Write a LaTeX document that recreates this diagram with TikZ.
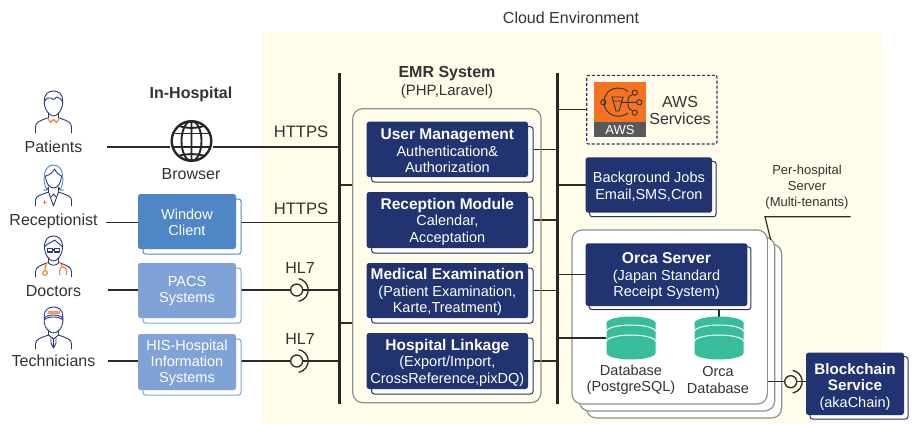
\documentclass[tikz,border=0pt]{standalone}
\usepackage{fontspec}
\setmainfont{Liberation Sans}
\usetikzlibrary{calc}
\definecolor{cloudbg}{HTML}{FFFCE9}
\definecolor{navy}{HTML}{213370}
\definecolor{winblue}{HTML}{4F86C6}
\definecolor{sysblue}{HTML}{7FA3D7}
\definecolor{teal}{HTML}{38BD9C}
\definecolor{ink}{HTML}{333333}
\definecolor{graybd}{HTML}{8B9096}
\definecolor{orng}{HTML}{F0812F}
\definecolor{iconblue}{HTML}{2A3A80}
\definecolor{awsor}{HTML}{F47322}
\definecolor{awsgr}{HTML}{58595B}
\pgfdeclarelayer{cloud}
\pgfdeclarelayer{stack}
\pgfdeclarelayer{conn}
\pgfsetlayers{cloud,stack,conn,main}
\tikzset{
  txt/.style={text=ink,inner sep=0pt,align=center,font=\fontsize{14.5}{16.3}\selectfont},
  big/.style={txt,font=\fontsize{16}{17}\selectfont},
  lead/.style={txt,font=\bfseries\fontsize{16}{17}\selectfont},
  small/.style={txt,font=\fontsize{13}{16}\selectfont},
  inbox/.style={text=white,inner sep=0pt,align=center,font=\fontsize{14.5}{16.3}\selectfont},
  conn/.style={draw=ink!85!black,line width=1.2pt},
  bar/.style={fill=black!85,inner sep=0pt,minimum width=3pt},
  pane/.style={draw=graybd,line width=1.2pt,rounded corners=10pt,inner sep=0pt},
  navyf/.style={fill=navy,rounded corners=2.5pt,inner sep=0pt},
  navyb/.style={fill=white,draw=navy,line width=1pt,rounded corners=2.5pt,inner sep=0pt},
  winf/.style={fill=winblue,rounded corners=2.5pt,inner sep=0pt},
  winb/.style={fill=white,draw=winblue,line width=1pt,rounded corners=2.5pt,inner sep=0pt},
  sysf/.style={fill=sysblue,rounded corners=2.5pt,inner sep=0pt},
  sysb/.style={fill=white,draw=sysblue,line width=1pt,rounded corners=2.5pt,inner sep=0pt},
  socket/.style={circle,draw=ink!85!black,line width=1.3pt,fill=cloudbg,minimum size=12pt,inner sep=0pt},
  person/.style={draw=iconblue,line width=.9pt,line cap=round,line join=round},
  accent/.style={draw=orng,line width=1.1pt,line cap=round,line join=round},
  globeline/.style={draw=black!85,line width=1.9pt},
  awsline/.style={draw=black!80,line width=.9pt},
  dbline/.style={draw=white,line width=1pt}
}
\def\textdrop{1.6}
% name, x1,y1,x2,y2, offset, style prefix, text
\newcommand\stackbox[8]{%
  \pgfmathsetmacro\bw{#4-#2}\pgfmathsetmacro\bh{#5-#3}%
  \pgfmathsetmacro\bx{(#2+#4)/2}\pgfmathsetmacro\by{(#3+#5)/2}%
  \pgfmathsetmacro\ox{\bx+#6}\pgfmathsetmacro\oy{\by+#6}\pgfmathsetmacro\ty{\by+\textdrop}%
  \node[#7b,minimum width=\bw pt,minimum height=\bh pt] (#1b) at (\ox,\oy) {};
  \node[#7f,minimum width=\bw pt,minimum height=\bh pt] (#1) at (\bx,\by) {};
  \node[inbox] (#1t) at (\bx,\ty) {#8};
}
% name, cx, cy
\newcommand\database[3]{%
  \begin{scope}[shift={(#2,#3)}]
    \fill[teal] (-24.5,-15) -- (24.5,-15) -- (24.5,15) arc (0:180:24.5 and 6.5) -- cycle;
    \fill[teal] (0,-15) ellipse (24.5 and 6.5);
    \draw[dbline] (-24.5,-6.5) arc (180:360:24.5 and 6.5);
    \draw[dbline] (-24.5,3.5) arc (180:360:24.5 and 6.5);
  \end{scope}
  \node[inner sep=0pt,minimum width=49pt,minimum height=42pt] (#1) at (#2,#3) {};
}
\newcommand\lolly[1]{\draw[draw=ink!85!black,line width=1.3pt] ($(#1.center)+(80:11.5)$) arc (80:-80:11.5);}
\begin{document}
\begin{tikzpicture}[x=1pt,y=-1pt]
\useasboundingbox (0,0) rectangle (915,423);
\begin{pgfonlayer}{cloud}
  \fill[white] (0,0) rectangle (915,423);
  \fill[cloudbg,rounded corners=3pt] (262,32) rectangle (882,423);
\end{pgfonlayer}

\node[big] (cloudlabel) at (571,18) {Cloud Environment};
\node[lead] (inhosp) at (191,94) {In-Hospital};
\node[lead] (emrlabel) at (447,73.5) {EMR System};
\node[txt,font=\fontsize{15}{16}\selectfont] (emrsub) at (447,92) {(PHP,Laravel)};

% bars
\node[bar,minimum height=331pt] (bar1) at (339.5,238) {};
\node[bar,minimum height=331pt] (bar2) at (557.5,238) {};

% actors
\node[big] (patients) at (53.5,146.5) {Patients};
\node[big] (recept) at (53.5,221) {Receptionist};
\node[big] (doctors) at (53.5,291) {Doctors};
\node[big] (techs) at (53.5,361) {Technicians};
\coordinate (paend) at (107,147);
\coordinate (reend) at (106,222.7);
\coordinate (doend) at (108,290);
\coordinate (teend) at (108,361);

% icons
\begin{scope}[shift={(53.5,91)}]
  \draw[person] (-9.3,10) .. controls (-9.3,3) and (-5,0) .. (0,0) .. controls (5,0) and (9.3,3) .. (9.3,10) .. controls (9.3,19) and (4,25) .. (0,25) .. controls (-4,25) and (-9.3,19) .. (-9.3,10);
  \draw[person] (-9.3,11) .. controls (-7,7) and (-5,6) .. (-3,7) .. controls (-1,9) and (1,9) .. (3,6) .. controls (5,6) and (8,8) .. (9.3,11);
  \draw[person] (-5,22) -- (-5,27) (5,22) -- (5,27);
  \draw[person] (-18,42) -- (-18,36) .. controls (-18,31) and (-14,30) .. (-6,27);
  \draw[person] (18,42) -- (18,36) .. controls (18,31) and (14,30) .. (6,27);
  \draw[accent] (-6,27) -- (-3,31.5) -- (0,28.5) -- (3,31.5) -- (6,27);
\end{scope}
\begin{scope}[shift={(53.5,165)}]
  \draw[draw=winblue,line width=.9pt] (-7,24) .. controls (-11,18) and (-11,0) .. (0,0) .. controls (11,0) and (11,18) .. (7,24);
  \draw[person] (-8,11) .. controls (-4,10) and (-1,8) .. (1,4) .. controls (3,8) and (6,10) .. (8,11) .. controls (8,18) and (4,23) .. (0,23) .. controls (-4,23) and (-8,18) .. (-8,11);
  \draw[person] (-10,25) .. controls (-8,26) and (-6,25) .. (-5,22) -- (-5,27);
  \draw[person] (10,25) .. controls (8,26) and (6,25) .. (5,22) -- (5,27);
  \draw[person] (-18,41) -- (-18,35) .. controls (-18,31) and (-13,30) .. (-5,27) -- (0,41) -- (5,27) .. controls (13,30) and (18,31) .. (18,35) -- (18,41);
  \draw[person] (-2.5,32) -- (0,29) -- (2.5,32);
  \draw[orng,line width=1.3pt] (-8.8,35.2) -- (-8.8,39.4) (-11,37.3) -- (-6.6,37.3);
\end{scope}
\begin{scope}[shift={(53.5,236)}]
  \draw[person] (-9,11) .. controls (-9,3) and (-5,0) .. (0,0) .. controls (5,0) and (9,3) .. (9,11) .. controls (9,19) and (4,25) .. (0,25) .. controls (-4,25) and (-9,19) .. (-9,11);
  \draw[person] (-9,11) .. controls (-6,7) and (-2,7) .. (1,4) .. controls (4,7) and (7,8) .. (9,11);
  \draw[person,line width=1.1pt] (-6,12.5) rectangle (-1,16) (1,12.5) rectangle (6,16) (-1,14) -- (1,14);
  \draw[person] (-5,22) -- (-5,27) (5,22) -- (5,27);
  \draw[person] (-18,41) -- (-18,36) .. controls (-18,31) and (-14,30) .. (-7,27);
  \draw[person] (18,41) -- (18,36) .. controls (18,31) and (14,30) .. (7,27);
  \draw[person] (-5,27) .. controls (-2,30) and (2,30) .. (5,27);
  \draw[accent] (-6,26) .. controls (-8,29) and (-9,31) .. (-8.5,34.5);
  \draw[accent] (-8.5,37) circle (2.3);
  \draw[accent] (6,26) .. controls (8,29) and (9,30) .. (9.5,31);
  \draw[accent] (6.5,39) .. controls (5,34) and (7,31) .. (9.5,31) .. controls (12,31) and (14,34) .. (12.5,39);
\end{scope}
\begin{scope}[shift={(53.5,307)}]
  \draw[person] (-9.3,9) .. controls (-9.3,3) and (-5,0) .. (0,0) .. controls (5,0) and (9.3,3) .. (9.3,9) -- (9.3,15) .. controls (9,21) and (4,26) .. (0,26) .. controls (-4,26) and (-9,21) .. (-9.3,15) -- cycle;
  \draw[person] (-9.3,13) .. controls (-6,9) and (6,9) .. (9.3,13) (-9.3,11) .. controls (-6,7) and (6,7) .. (9.3,11);
  \fill[orng!80] (-6,3.5) rectangle (6,6.5);
  \draw[person] (-5,23) -- (-5,28) (5,23) -- (5,28);
  \draw[person] (-18,42) -- (-18,37) .. controls (-18,32) and (-13,31) .. (-5,28) -- (0,32) -- (5,28) .. controls (13,31) and (18,32) .. (18,37) -- (18,42);
  \draw[person] (-2.5,31) -- (-2.5,36) -- (0,41) -- (2.5,36) -- (2.5,31) (0,32) -- (0,41);
\end{scope}

% browser
\node[circle,inner sep=0pt,minimum size=42pt] (browser) at (191.5,141) {};
\begin{scope}[shift={(191.5,141)}]
  \draw[globeline,line width=2.4pt] (0,0) circle (19.8);
  \draw[globeline] (0,-20) -- (0,20) (0,0) ellipse (10 and 20);
  \draw[globeline] (-17,-7.5) -- (17,-7.5) (-19.5,6) -- (19.5,6);
  \draw[globeline] (-12,-15) .. controls (-6,-12.5) and (6,-12.5) .. (12,-15);
  \draw[globeline] (-13,15) .. controls (-6,12.5) and (6,12.5) .. (13,15);
\end{scope}
\node[big] (browserlabel) at (191,174) {Browser};

% in-hospital boxes
\def\textdrop{0.6}
\stackbox{window}{138}{194}{236}{249}{5}{win}{Window\\Client}
\stackbox{pacs}{138}{263}{236}{318}{5}{sys}{PACS\\Systems}
\stackbox{his}{138}{334}{236}{390}{5}{sys}{HIS-Hospital\\Information\\Systems}
\def\textdrop{1.6}

\node[big,font=\fontsize{16.6}{17}\selectfont] (https1) at (301,132) {HTTPS};
\node[big,font=\fontsize{16.6}{17}\selectfont] (https2) at (301,209) {HTTPS};
\node[big] (hl71) at (300,268) {HL7};
\node[big] (hl72) at (300,339) {HL7};
\node[socket] (sock1) at (296.7,290) {};
\node[socket] (sock2) at (296.7,361) {};
\lolly{sock1}
\lolly{sock2}

% EMR
\node[pane,minimum width=188.3pt,minimum height=294pt] (emr) at (446.9,255.7) {};
\stackbox{user}{366.7}{121.7}{528}{177}{5}{navy}{{\bfseries\fontsize{15.5}{16.3}\selectfont User Management}\\Authentication\&\\Authorization}
\stackbox{recep}{366.7}{192}{528}{248}{5}{navy}{{\bfseries\fontsize{15.5}{16.3}\selectfont Reception Module}\\Calendar,\\Acceptation}
\stackbox{medex}{366.7}{263}{528}{318}{5}{navy}{{\bfseries\fontsize{15.5}{16.3}\selectfont Medical Examination}\\(Patient Examination,\\Karte,Treatment)}
\stackbox{link}{366.7}{333}{528}{389}{5}{navy}{{\bfseries\fontsize{15.5}{16.3}\selectfont Hospital Linkage}\\(Export/Import,\\CrossReference,pixDQ)}

% AWS
\node[draw=navy,line width=1.2pt,densely dashed,rounded corners=2pt,inner sep=0pt,minimum width=130.3pt,minimum height=68.7pt] (aws) at (651.8,109.7) {};
\fill[awsor] (594,82) rectangle (646,122);
\fill[awsgr] (594,122) rectangle (646,136.7);
\node[inner sep=0pt,text=white,font=\fontsize{13}{13}\selectfont] (awstag) at (620,129.7) {AWS};
\draw[awsline] (628,91.5) .. controls (622,86.5) and (612,87) .. (607,93) .. controls (603,98) and (603,106) .. (607,111) .. controls (612,117) and (622,118) .. (628,113);
\draw[awsline] (603.3,102.3) circle (2.6);
\draw[awsline] (634.7,92.7) circle (2.6) (639.3,102.3) circle (2.6) (634.7,112.7) circle (2.6);
\draw[awsline] (622,102.3) -- (636.7,102.3) (632.3,94.7) .. controls (628,96) and (628,98) .. (628,102.3) .. controls (628,106) and (628,109) .. (632.3,110.7);
\draw[awsline] (612,97) -- (623,97) -- (619,111) -- (616,111) -- cycle (613,101) -- (622,101);
\node[big] (awslabel) at (680,110.5) {AWS\\Services};

\stackbox{jobs}{585.7}{157.3}{712}{212.7}{4}{navy}{Background Jobs\\Email,SMS,Cron}
\node[small] (perhosp) at (807,187.5) {Per-hospital\\Server\\(Multi-tenants)};
\coordinate (ph1) at (850.7,216.7);
\coordinate (ph2) at (765,216.7);
\coordinate (ph3) at (770.7,240);
\draw[conn] (ph1) -- (ph2) -- (ph3);

% stacked server
\begin{pgfonlayer}{stack}
  \node[pane,fill=white,minimum width=195.3pt,minimum height=174pt] (srv3) at (684,331) {};
  \node[pane,fill=white,minimum width=195.3pt,minimum height=174pt] (srv2) at (677,324) {};
  \node[pane,fill=white,minimum width=195.3pt,minimum height=174pt] (srv) at (669.7,317) {};
\end{pgfonlayer}
\stackbox{orca}{585.7}{243.3}{747.3}{306}{3.5}{navy}{{\bfseries\fontsize{15.7}{16.3}\selectfont Orca Server}\\(Japan Standard\\Receipt System)}
\database{db1}{631}{338}
\database{db2}{719}{338}
\node[txt] (db1label) at (631,380) {Database\\(PostgreSQL)};
\node[txt] (db2label) at (718,380) {Orca\\Database};
\def\textdrop{3}
\stackbox{chain}{806}{352.7}{904}{415}{4}{navy}{{\bfseries\fontsize{15.2}{17}\selectfont Blockchain}\\{\bfseries\fontsize{15.2}{17}\selectfont Service}\\(akaChain)}
\node[socket] (sock3) at (790.7,381.7) {};
\lolly{sock3}

% connectors
\begin{pgfonlayer}{conn}
  \draw[conn] (paend) -- (browser.west |- paend);
  \draw[conn] (browser.east |- paend) -- (bar1.west |- paend);
  \draw[conn] (reend) -- (window.west |- reend);
  \draw[conn] (window.east |- reend) -- (bar1.west |- reend);
  \draw[conn] (doend) -- (pacs.west |- doend);
  \draw[conn] (pacs.east |- doend) -- (sock1.west);
  \draw[conn] (sock1.east) -- (bar1.west |- sock1.east);
  \draw[conn] (teend) -- (his.west |- teend);
  \draw[conn] (his.east |- teend) -- (sock2.west);
  \draw[conn] (sock2.east) -- (bar1.west |- sock2.east);
  \coordinate (emr1) at (emr.west |- 0,185);
  \coordinate (emr2) at (emr.west |- 0,323);
  \draw[conn] (bar1.east |- emr1) -- (emr1);
  \draw[conn] (bar1.east |- emr2) -- (emr2);
  \draw[conn] (userb.east |- user.east) -- (bar2.west |- user.east);
  \draw[conn] (recepb.east |- recep.east) -- (bar2.west |- recep.east);
  \draw[conn] (medexb.east |- medex.east) -- (bar2.west |- medex.east);
  \draw[conn] (linkb.east |- link.east) -- (bar2.west |- link.east);
  \draw[conn] (bar2.east |- aws.west) -- (aws.west);
  \draw[conn] (bar2.east |- jobs.west) -- (jobs.west);
  \draw[conn] (bar2.east |- orca.west) -- (orca.west);
  \draw[conn] (bar2.east |- db1.west) -- (db1.west);
  \coordinate (db2top) at (db2.center |- 0,326);
  \draw[conn] (orcab.south -| db2) -- (db2top);
  \draw[conn] (srv.east |- sock3) -- (sock3.west);
  \draw[conn] (sock3.east) -- (chain.west |- sock3);
\end{pgfonlayer}
\end{tikzpicture}
\end{document}
